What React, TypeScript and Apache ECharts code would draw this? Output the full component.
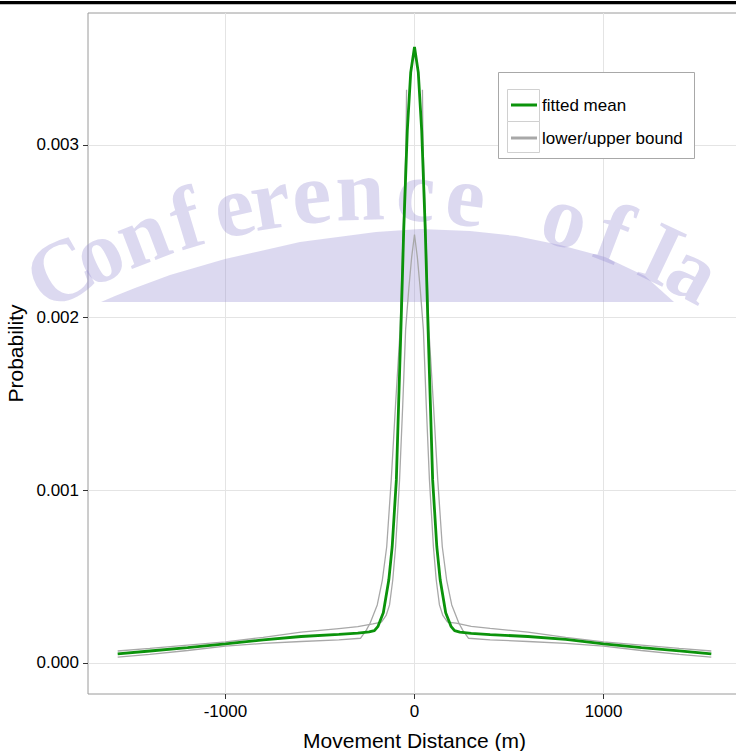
import React, { useEffect, useRef } from "react";
import * as echarts from "echarts";

// Movement distance (m) and probability for the fitted mean curve
const meanX = [-1570, -1400, -1200, -1000, -800, -600, -400, -300, -240, -212, -194, -165, -136, -118, -96, -84, -72, -57, -38, -20, 0,
  20, 38, 57, 72, 84, 96, 118, 136, 165, 194, 212, 240, 300, 400, 600, 800, 1000, 1200, 1400, 1570];
const meanY = [0.000052, 0.000069, 0.000089, 0.00011, 0.000133, 0.000153, 0.000165, 0.000172, 0.00018, 0.000187, 0.00021, 0.00029, 0.00048, 0.000673, 0.00106, 0.0015, 0.00193, 0.002507, 0.003086, 0.00342, 0.003567,
  0.00342, 0.003086, 0.002507, 0.00193, 0.0015, 0.00106, 0.000673, 0.00048, 0.00029, 0.00021, 0.000187, 0.000178, 0.000171, 0.000164, 0.000153, 0.000136, 0.00011, 0.000089, 0.00007, 0.000052];

// Bound with the lower, narrower peak and heavier tail
const boundAX = [-1570, -1400, -1200, -1000, -800, -600, -400, -300, -220, -175, -150, -132, -115, -100, -79, -62, -47, -30, -15, 0,
  15, 30, 47, 62, 79, 100, 115, 132, 150, 175, 220, 300, 400, 600, 800, 1000, 1200, 1400, 1570];
const boundAY = [0.000069, 0.000084, 0.000103, 0.000122, 0.000148, 0.000178, 0.000199, 0.00021, 0.000226, 0.000236, 0.000275, 0.000336, 0.00048, 0.000673, 0.00106, 0.0015, 0.00193, 0.00217, 0.00235, 0.00248,
  0.00235, 0.00217, 0.00193, 0.0015, 0.00106, 0.000673, 0.00048, 0.000336, 0.000275, 0.000236, 0.00023, 0.000212, 0.0002, 0.000178, 0.000148, 0.000122, 0.000103, 0.000084, 0.000069];

// Bound with the higher, wider core and lighter tail (top hidden under the mean curve)
const boundBX = [-1570, -1400, -1200, -1000, -800, -600, -400, -285, -255, -235, -197, -170, -147, -123, -100, -76, -60, -45, -42, 0,
  42, 45, 60, 76, 100, 123, 147, 170, 197, 235, 255, 285, 400, 600, 800, 1000, 1200, 1400, 1570];
const boundBY = [0.000033, 0.00005, 0.000072, 0.000097, 0.000113, 0.000124, 0.000134, 0.000143, 0.00019, 0.00023, 0.000336, 0.00048, 0.000673, 0.00106, 0.0015, 0.00193, 0.0025, 0.003, 0.00332, null,
  0.00332, 0.003, 0.0025, 0.00193, 0.0015, 0.00106, 0.000673, 0.00048, 0.000336, 0.00023, 0.00019, 0.000143, 0.000134, 0.000124, 0.000113, 0.000097, 0.000072, 0.00005, 0.000033];

const xTicks = [-1000, 0, 1000];
const yTicks = [0, 0.001, 0.002, 0.003];
const seriesNames = ["fitted mean", "lower/upper bound"];
const watermarkText = "Conference of Ia";

const FONT = "'Liberation Sans', Arial, sans-serif";

export default function App() {
  const ref = useRef<HTMLDivElement>(null);
  useEffect(() => {
    const chart = echarts.init(ref.current!, null, { renderer: "svg" });

    // watermark letters along an arc (decoration), kept inside the page
    const letterX = [60, 98, 142, 186, 233, 270, 311, 360, 416, 466, -1, 566, 614, -1, 662, 694];
    const cx = 378, cy = 852, r = 662;
    const wmColor = "rgba(150,140,210,0.33)";
    const letters: any[] = [];
    watermarkText.split("").forEach((ch, i) => {
      if (ch === " ") return;
      const lx = letterX[i];
      const ang = Math.asin((lx - cx) / r);
      letters.push({
        type: "text",
        x: cx + r * Math.sin(ang),
        y: cy - r * Math.cos(ang),
        rotation: -ang,
        z: 1,
        silent: true,
        style: {
          text: ch,
          fill: wmColor,
          font: "bold 88px 'Liberation Serif', serif",
          lineHeight: 62,
          align: "center",
          verticalAlign: "middle",
        },
      });
    });
    const domePts = [[101, 302], [115, 296], [135, 288], [170, 275], [225, 259], [300, 242], [376, 232], [420, 229], [470, 231], [516, 236], [560, 245], [605, 257], [645, 276], [674, 302]];

    const option: any = {
      animation: false,
      backgroundColor: "#fff",
      grid: {
        left: 88, top: 13, right: -5, bottom: 57,
        containLabel: false,
        outerBoundsMode: "none",
        show: true, borderColor: "#9a9a9a", borderWidth: 1, backgroundColor: "transparent",
      },
      legend: {
        orient: "vertical",
        left: 511, top: 95,
        itemWidth: 26, itemHeight: 3, itemGap: 13,
        icon: "rect",
        padding: 0,
        selectedMode: false,
        data: seriesNames,
        textStyle: { fontSize: 17, color: "#000", fontFamily: FONT, lineHeight: 20 },
        z: 5,
      },
      xAxis: {
        type: "value",
        min: -1727, max: 1727, splitNumber: 3,
        name: "Movement Distance (m)",
        nameLocation: "middle", nameGap: 36,
        nameTextStyle: { fontSize: 21, color: "#000", fontFamily: FONT },
        axisLine: { show: false, onZero: false },
        axisTick: { show: true, customValues: xTicks, length: 5, lineStyle: { color: "#333" } },
        axisLabel: { customValues: xTicks, fontSize: 17, color: "#000", fontFamily: FONT, margin: 9, formatter: (v: number) => String(v) },
        splitLine: { show: true, lineStyle: { color: "#e4e4e4", width: 1 } },
      },
      yAxis: {
        type: "value",
        min: -0.00018, max: 0.003764, splitNumber: 4,
        name: "Probability",
        nameLocation: "middle", nameGap: 58,
        nameTextStyle: { fontSize: 21, color: "#000", fontFamily: FONT },
        axisLine: { show: false, onZero: false },
        axisTick: { show: true, customValues: yTicks, length: 5, lineStyle: { color: "#333" } },
        axisLabel: { customValues: yTicks, fontSize: 17, color: "#000", fontFamily: FONT, margin: 9, formatter: (v: number) => v.toFixed(3) },
        splitLine: { show: true, lineStyle: { color: "#e4e4e4", width: 1 } },
      },
      graphic: [
        { type: "rect", z: 10, silent: true, shape: { x: 0, y: 1, width: 736, height: 3 }, style: { fill: "#000" } },
        { type: "rect", z: 10, silent: true, shape: { x: 0, y: 4, width: 736, height: 1 }, style: { fill: "#bdbdbd" } },
        { type: "polygon", z: 1, silent: true, shape: { points: domePts }, style: { fill: wmColor } },
        ...letters,
        { type: "rect", z: 3, silent: true, shape: { x: 498.5, y: 72.5, width: 196, height: 86 }, style: { fill: "#fff", stroke: "#a8a8a8", lineWidth: 1 } },
        { type: "rect", z: 3, silent: true, shape: { x: 507.5, y: 89.5, width: 32, height: 32 }, style: { fill: "#fff", stroke: "#d0d0d0", lineWidth: 1 } },
        { type: "rect", z: 3, silent: true, shape: { x: 507.5, y: 121.5, width: 32, height: 31 }, style: { fill: "#fff", stroke: "#d0d0d0", lineWidth: 1 } },
      ],
      series: [
        {
          name: seriesNames[1], type: "line", showSymbol: false, symbol: "none",
          color: "#a8a8a8", lineStyle: { color: "#a8a8a8", width: 1.3 },
          data: boundAX.map((x, i) => [x, boundAY[i]]),
        },
        {
          name: seriesNames[1], type: "line", showSymbol: false, symbol: "none",
          color: "#a8a8a8", lineStyle: { color: "#a8a8a8", width: 1.3 },
          connectNulls: false,
          data: boundBX.map((x, i) => [x, boundBY[i]]),
        },
        {
          name: seriesNames[0], type: "line", showSymbol: false, symbol: "none",
          color: "#0b930b", lineStyle: { color: "#0b930b", width: 2.8 },
          data: meanX.map((x, i) => [x, meanY[i]]),
        },
      ],
    };
    chart.setOption(option);
    return () => chart.dispose();
  }, []);
  return <div ref={ref} style={{ position: "absolute", left: 0, top: 0, width: 736, height: 751 }} />;
}
